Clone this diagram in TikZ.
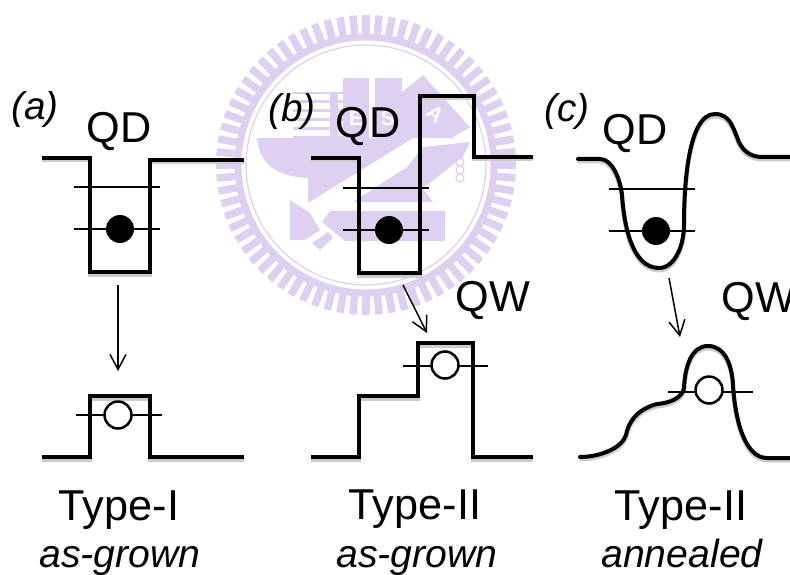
\documentclass[tikz,border=0pt]{standalone}
\usepackage{fontspec}
\setmainfont{Liberation Sans}
\usetikzlibrary{
    arrows.meta,
    calc,
    positioning
}
\definecolor{logolilac}{RGB}{222,208,240}
\tikzset{
    band/.style={line width=0.08cm, line join=miter, preaction={draw=black!20, line width=0.09cm, transform canvas={yshift=-0.045cm}}},
    curveband/.style={band, line join=round, line cap=round},
    level/.style={line width=0.04cm},
    dotfull/.style={circle, fill=black, inner sep=0pt, minimum size=0.56cm},
    dothole/.style={circle, draw=black, fill=white, line width=0.05cm, inner sep=0pt, minimum size=0.54cm},
    relax/.style={-{Straight Barb[length=0.3cm, width=0.32cm]}, line width=0.03cm},
    panel/.style={anchor=base, inner sep=0pt, font=\fontsize{22}{24}\selectfont\itshape},
    carrier/.style={anchor=base, inner sep=0pt, font=\fontsize{24.6}{28}\selectfont},
    sample/.style={anchor=base, inner sep=0pt, font=\fontsize{22.3}{26}\selectfont\itshape},
    logofill/.style={fill=logolilac, draw=none},
    logoletter/.style={text=white, inner sep=0pt, font=\bfseries\large}
}
\begin{document}
\begin{tikzpicture}[x=0.02cm, y=-0.02cm]
                        \clip (0, 0) rectangle (790, 574);

                        \begin{scope}[shift={(366, 165)}]
                            \foreach \a in {0,5,...,355} {
                                \draw[logolilac, line width=0.15cm] (\a:126) -- (\a:150);
                            }
                            \draw[logolilac, line width=0.14cm] (0, 0) circle (128);
                            \draw[logolilac, line width=0.025cm] (0, 0) circle (120);
                        \end{scope}

                        \fill[logolilac] (293, 92) rectangle (343, 138);
                        \foreach \i in {0,...,4} {
                            \fill[white] (293, 94 + \i * 9) rectangle (330, 100 + \i * 9);
                            \fill[white] (338, 94 + \i * 9) rectangle (343, 100 + \i * 9);
                        }
                        \fill[logolilac] (343, 78) rectangle (369, 138);
                        \fill[logolilac] (375, 78) rectangle (402, 138);
                        \node[logoletter] (logoE) at (356, 118) {E};
                        \node[logoletter] (logoS) at (388, 118) {S};
                        \fill[logolilac] (402, 92) -- (423, 75) -- (470, 127) -- (452, 138) -- (420, 138) -- (402, 138) -- cycle;
                        \node[logoletter, rotate=-40] (logoA) at (435, 114) {A};
                        \path[logofill] (257, 138) -- (413, 138) -- (308, 203) -- (308, 178)
                            .. controls (285, 177) and (260, 170) .. cycle;
                        \path[logofill] (353, 202) -- (407, 167) -- (433, 202) -- cycle;
                        \path[logofill] (423, 147) -- (470, 142) -- (463, 157) -- (450, 167) -- (430, 183) -- (420, 190) -- (407, 167) -- cycle;
                        \path[logofill] (330, 211) -- (445, 211) -- (445, 241) -- (345, 241) -- (322, 222) -- cycle;
                        \path[logofill] (290, 200) -- (310, 213) -- (320, 230) -- (305, 240) -- (290, 240) -- cycle;
                        \path[logofill] (312, 243) -- (328, 232) -- (333, 238) -- (320, 250) -- cycle;
                        \foreach \i in {162,170,178} {
                            \draw[logolilac, line width=0.025cm] (460, \i) circle (4);
                        }

                        \draw[band] (42, 158) -- (90, 158) -- (90, 272) -- (150, 272) -- (150, 160) -- (244, 160);
                        \foreach \i in {187,229} {
                            \draw[level] (74, \i) -- (160, \i);
                        }
                        \node[dotfull] (dota) at (120, 229) {};
                        \draw[band] (42, 457) -- (90, 457) -- (90, 396) -- (150, 396) -- (150, 457) -- (244, 457);
                        \draw[level] (76, 415) -- (162, 415);
                        \node[dothole] (holea) at (118, 415) {};
                        \coordinate (arrowa1) at (118, 285);
                        \coordinate (arrowa2) at (118, 371);
                        \draw[relax] (arrowa1) -- (arrowa2);

                        \draw[band] (311, 158) -- (359, 158) -- (359, 273) -- (420, 273) -- (420, 96) -- (474, 96) -- (474, 157) -- (533, 157);
                        \foreach \i in {188,230} {
                            \draw[level] (343, \i) -- (429, \i);
                        }
                        \node[dotfull] (dotb) at (389, 230) {};
                        \draw[band] (311, 457) -- (359, 457) -- (359, 396) -- (418, 396) -- (418, 343) -- (473, 343) -- (473, 457) -- (533, 457);
                        \draw[level] (403, 366) -- (488, 366);
                        \node[dothole] (holeb) at (445, 365) {};
                        \coordinate (arrowb1) at (403, 285);
                        \coordinate (arrowb2) at (427, 333);
                        \draw[relax] (arrowb1) -- (arrowb2);

                        \draw[curveband] (578, 159) -- (600, 159) .. controls (612, 159) and (620, 178) .. (622, 195)
                            .. controls (624, 225) and (632, 268) .. (659, 268)
                            .. controls (675, 268) and (684, 245) .. (684, 225)
                            .. controls (684, 185) and (688, 114) .. (715, 114)
                            .. controls (730, 114) and (733, 128) .. (737, 137)
                            .. controls (741, 150) and (750, 157) .. (762, 157) -- (790, 157);
                        \foreach \i in {189,231} {
                            \draw[level] (609, \i) -- (695, \i);
                        }
                        \node[dotfull] (dotc) at (656, 231) {};
                        \draw[curveband] (580, 457) .. controls (600, 457) and (622, 448) .. (626, 435)
                            .. controls (630, 415) and (645, 407) .. (657, 404)
                            .. controls (670, 403) and (682, 398) .. (684, 388)
                            .. controls (685, 365) and (692, 346) .. (708, 346)
                            .. controls (725, 346) and (732, 365) .. (733, 385)
                            .. controls (735, 420) and (745, 458) .. (767, 458) -- (790, 458);
                        \draw[level] (668, 392) -- (753, 392);
                        \node[dothole] (holec) at (709, 390) {};
                        \coordinate (arrowc1) at (669, 278);
                        \coordinate (arrowc2) at (680, 337);
                        \draw[relax] (arrowc1) -- (arrowc2);

                        \node[panel] (labela) at (35, 120) {(a)};
                        \node[panel] (labelb) at (292, 122) {(b)};
                        \node[panel] (labelc) at (567, 122) {(c)};
                        \node[carrier] (qda) at (119, 143) {QD};
                        \node[carrier] (qdb) at (368, 138) {QD};
                        \node[carrier] (qdc) at (635, 145) {QD};
                        \node[carrier] (qwb) at (493, 311) {QW};
                        \node[carrier] (qwc) at (759, 312) {QW};
                        \node[carrier] (typea) at (119, 520) {Type-I};
                        \node[carrier] (typeb) at (415, 519) {Type-II};
                        \node[carrier] (typec) at (681, 520) {Type-II};
                        \node[sample] (samplea) at (120, 567) {as-grown};
                        \node[sample] (sampleb) at (417, 567) {as-grown};
                        \node[sample] (samplec) at (682, 567) {annealed};
                    \end{tikzpicture}
\end{document}
